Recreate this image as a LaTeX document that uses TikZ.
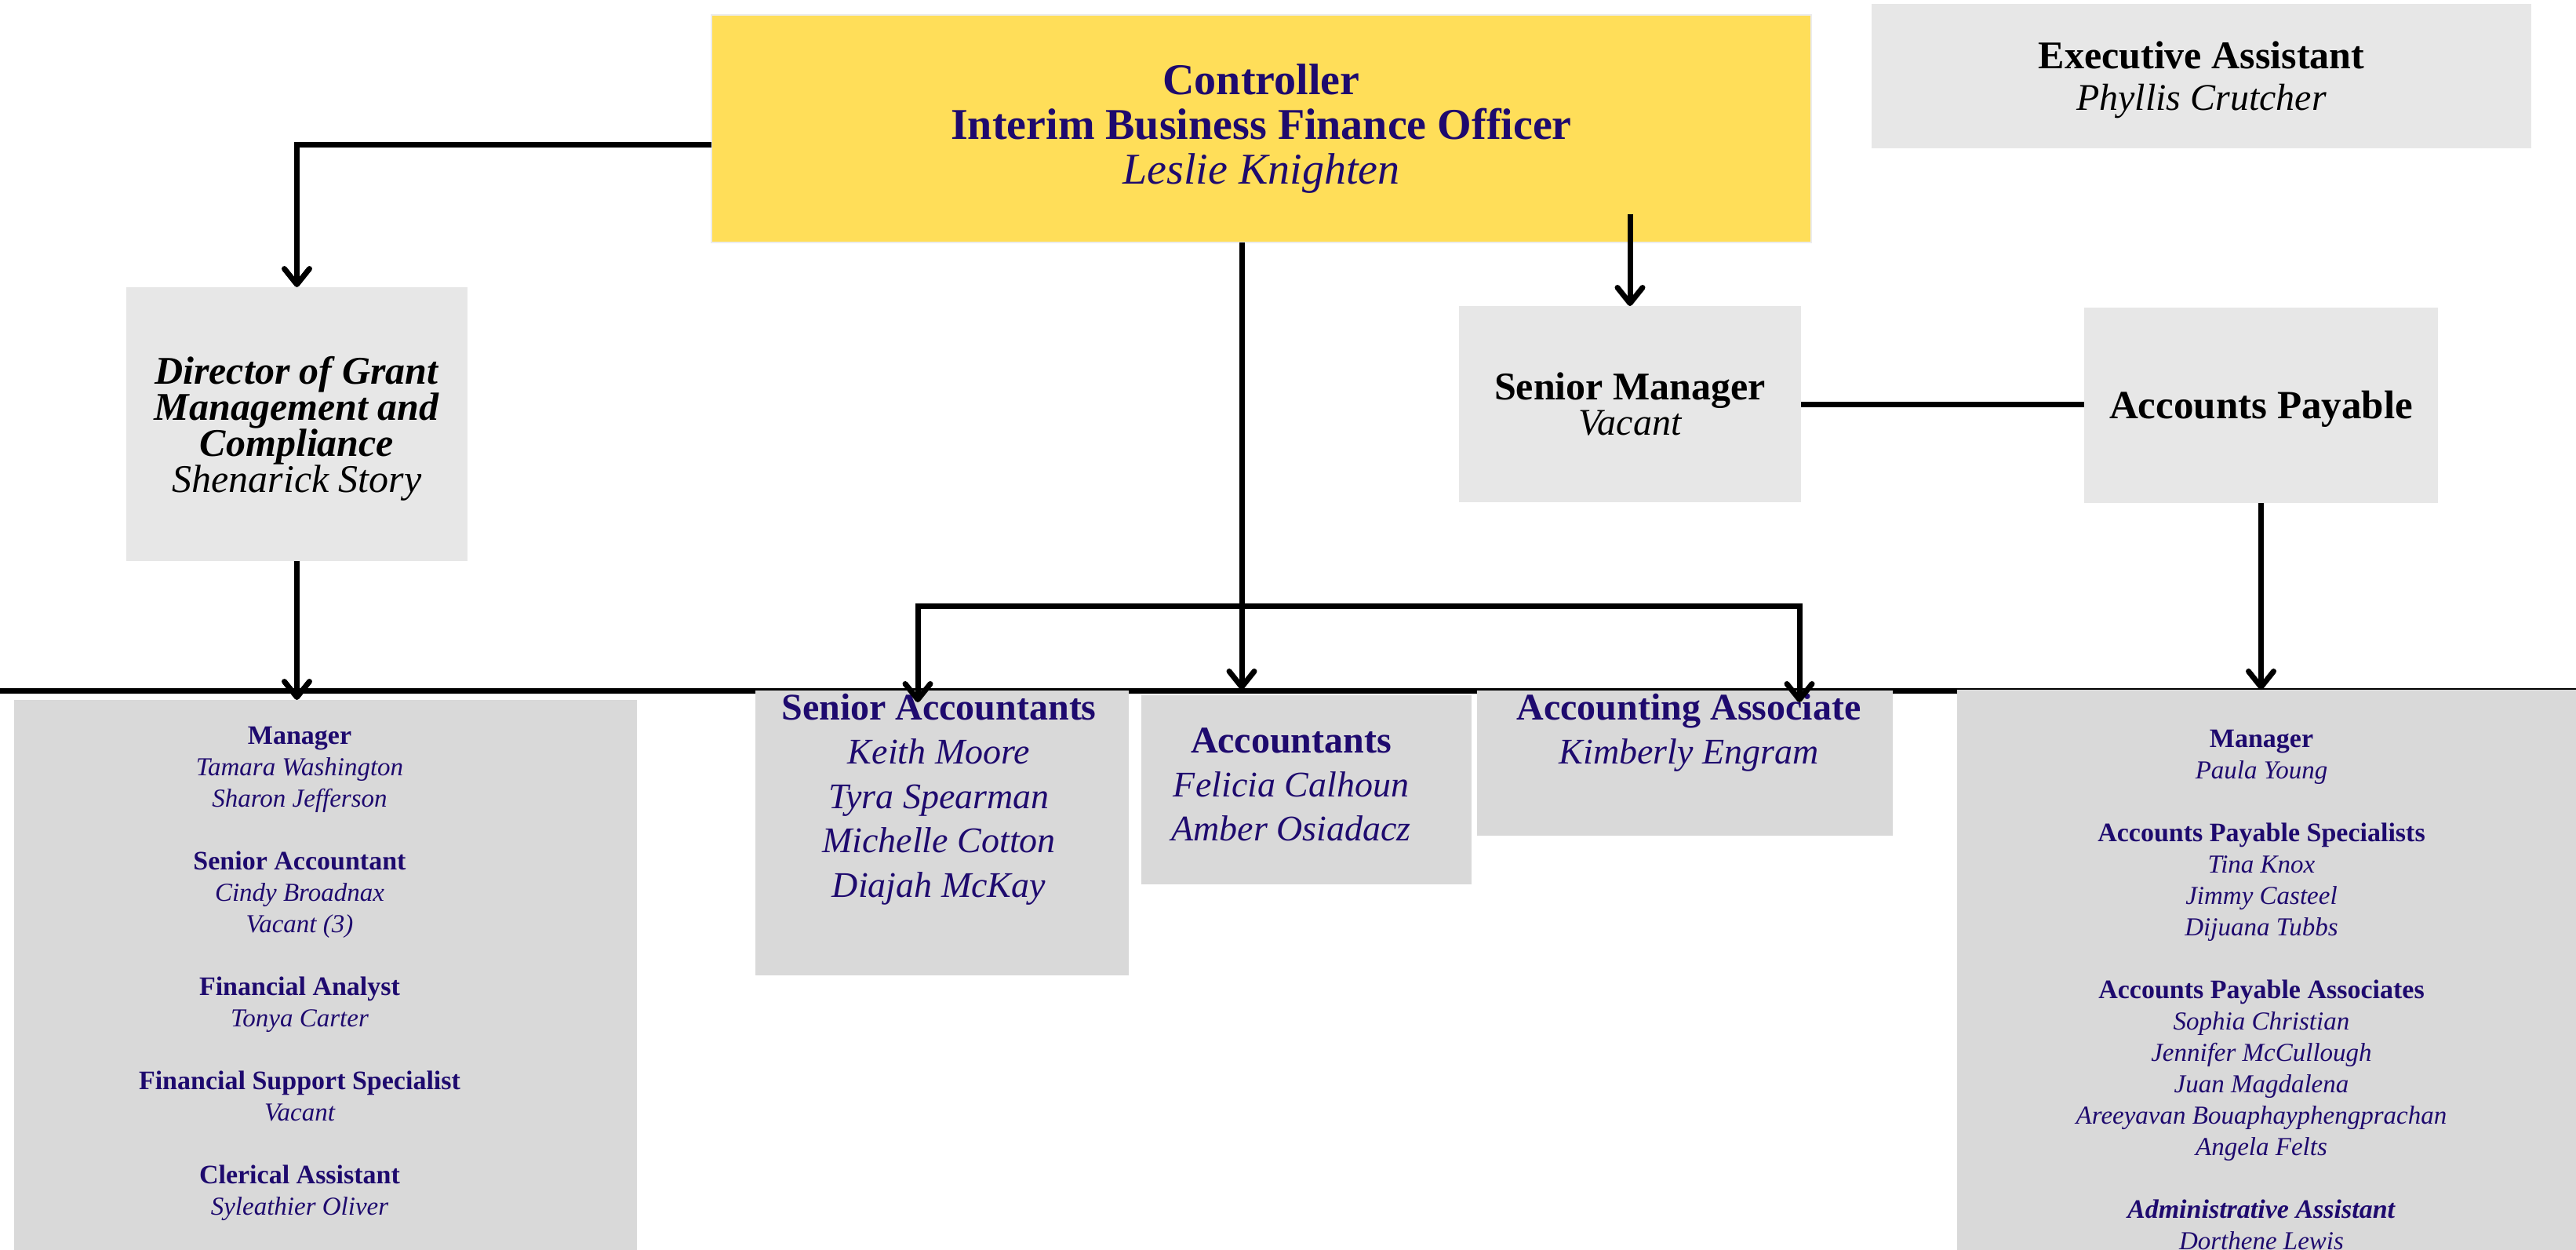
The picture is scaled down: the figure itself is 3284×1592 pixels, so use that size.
\documentclass[tikz,border=0pt]{standalone}
\usepackage{fontspec}
\setmainfont{Liberation Serif}
\usetikzlibrary{arrows.meta}
\definecolor{navy}{RGB}{30,10,110}
\definecolor{gold}{RGB}{255,222,89}
\definecolor{lgrey}{RGB}{231,231,231}
\definecolor{mgrey}{RGB}{217,217,217}
\definecolor{edgegrey}{RGB}{236,236,236}
\newcommand\fsz[2]{\fontsize{#1}{#2}\selectfont}
\newcommand\nmA[1]{{\fontsize{23pt}{28.25pt}\selectfont\itshape #1}}
\newcommand\nmB[1]{{\fontsize{16.5pt}{20pt}\selectfont\itshape #1}}
\begin{document}
\begin{tikzpicture}[x=0.5pt,y=-0.5pt,
  conn/.style={line width=3.5pt},
  arr/.style={conn,-{Straight Barb[length=10pt,width=16pt,round]}},
  dblarr/.style={conn,{Straight Barb[length=10pt,width=16pt,round]}-{Straight Barb[length=10pt,width=16pt,round]}},
  box/.style={inner sep=0pt,outer sep=0pt,align=center},
  txt/.style={inner sep=0pt,outer sep=0pt,align=center,anchor=north}]
\useasboundingbox (0,0) rectangle (3284,1592);
\clip (0,0) rectangle (3284,1592);
\fill[white] (0,0) rectangle (3284,1592);

% horizontal rule across the chart
\coordinate (hlL) at (0,880);
\coordinate (hlR) at (3284,880);
\draw[conn] (hlL) -- (hlR);

% top level
\node[box,fill=gold,draw=edgegrey,line width=1pt,minimum width=701pt,minimum height=145pt,text=navy,font=\fsz{28pt}{28.5pt}] (ctrl) at (1608,164)
  {\textbf{Controller}\\\textbf{Interim Business Finance Officer}\\\textit{Leslie Knighten}};
\node[box,fill=lgrey,minimum width=420.5pt,minimum height=92pt,font=\fsz{25pt}{26.5pt}] (exec) at (2806.5,97)
  {\rule{0pt}{22pt}\textbf{Executive Assistant}\\{\fontsize{24pt}{26.5pt}\selectfont\itshape Phyllis Crutcher}};
\node[box,fill=lgrey,minimum width=217.5pt,minimum height=174.5pt,font=\fsz{25pt}{23pt}] (dir) at (378.5,540.5)
  {\rule{0pt}{23.5pt}\textbf{\textit{Director of Grant}}\\\textbf{\textit{Management and}}\\\textbf{\textit{Compliance}}\\\textit{Shenarick Story}};
\node[box,fill=lgrey,minimum width=218pt,minimum height=125pt,font=\fsz{25pt}{22.5pt}] (sm) at (2078,515)
  {\textbf{Senior Manager}\\{\fontsize{24pt}{22.5pt}\selectfont\itshape Vacant}};
\node[box,fill=lgrey,minimum width=225.5pt,minimum height=124.5pt,font=\fsz{25.5pt}{26pt}] (ap) at (2882.5,516.5)
  {\rule{0pt}{22.5pt}\textbf{Accounts Payable}};

% bottom boxes
\node[box,fill=mgrey,anchor=north west,minimum width=397pt,minimum height=380pt] (gmb) at (18,892) {};
\node[txt,text=navy,font=\fsz{17pt}{20pt}] (gmt) at (382,926)
  {\textbf{Manager}\\\nmB{Tamara Washington}\\\nmB{Sharon Jefferson}\\[20pt]
   \textbf{Senior Accountant}\\\nmB{Cindy Broadnax}\\\nmB{Vacant (3)}\\[20pt]
   \textbf{Financial Analyst}\\\nmB{Tonya Carter}\\[20pt]
   \textbf{Financial Support Specialist}\\\nmB{Vacant}\\[20pt]
   \textbf{Clerical Assistant}\\\nmB{Syleathier Oliver}};

\node[box,fill=mgrey,minimum width=238pt,minimum height=181.5pt] (sab) at (1201,1061.5) {};
\node[txt,text=navy,font=\fsz{24pt}{28.25pt}] (sat) at (1197,884)
  {\textbf{Senior Accountants}\\\nmA{Keith Moore}\\\nmA{Tyra Spearman}\\\nmA{Michelle Cotton}\\\nmA{Diajah McKay}};

\node[box,fill=mgrey,minimum width=210.5pt,minimum height=120.5pt] (acb) at (1665.5,1006.5) {};
\node[txt,text=navy,font=\fsz{24pt}{28pt}] (act) at (1646,928)
  {\textbf{Accountants}\\\nmA{Felicia Calhoun}\\\nmA{Amber Osiadacz}};

\node[box,fill=mgrey,minimum width=265pt,minimum height=92.5pt] (aab) at (2148,972.5) {};
\node[txt,text=navy,font=\fsz{24pt}{28pt}] (aat) at (2153,884)
  {\textbf{Accounting Associate}\\\nmA{Kimberly Engram}};

\node[box,fill=mgrey,anchor=north west,minimum width=410pt,minimum height=380pt] (apb) at (2495,879) {};
\node[txt,text=navy,font=\fsz{17pt}{20pt}] (apt) at (2883,930)
  {\textbf{Manager}\\\nmB{Paula Young}\\[20pt]
   \textbf{Accounts Payable Specialists}\\\nmB{Tina Knox}\\\nmB{Jimmy Casteel}\\\nmB{Dijuana Tubbs}\\[20pt]
   \textbf{Accounts Payable Associates}\\\nmB{Sophia Christian}\\\nmB{Jennifer McCullough}\\\nmB{Juan Magdalena}\\\nmB{Areeyavan Bouaphayphengprachan}\\\nmB{Angela Felts}\\[20pt]
   \textbf{\textit{Administrative Assistant}}\\\nmB{Dorthene Lewis}};

% connectors
\draw[arr] ([yshift=-10pt]ctrl.west) -| (dir.north);
\draw[arr] (dir.south) -- (dir.south |- gmb.north);
\coordinate (hl) at (0,879);
\draw[arr] ([xshift=-12.5pt]ctrl.south) -- ([xshift=-12.5pt]ctrl.south |- hl);
\coordinate (tipL) at (1170,895);
\coordinate (bkR) at (2294,772);
\coordinate (tipR) at (2294,895);
\draw[dblarr] (tipL) |- (bkR) -- (tipR);
\draw[arr] (sm.north |- ctrl.south) ++(0,-36) -- (sm.north);
\draw[conn] (sm.east) -- (sm.east -| ap.west);
\draw[arr] (ap.south) -- (ap.south |- apb.north);
\end{tikzpicture}
\end{document}
